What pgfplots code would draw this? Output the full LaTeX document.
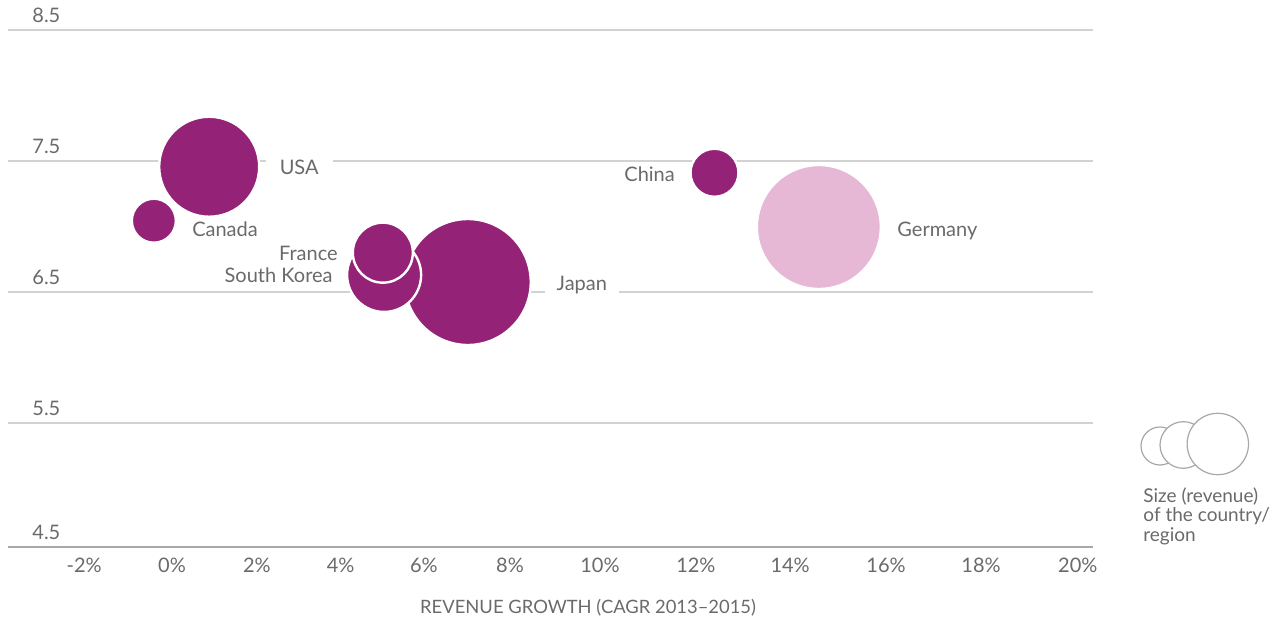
\documentclass[border=0pt]{standalone}
\usepackage{fontspec}
\setmainfont{Lato}
\usepackage{pgfplots}
\pgfplotsset{compat=1.18}
\definecolor{bub}{HTML}{942277}
\definecolor{bubl}{HTML}{E6B8D6}
\definecolor{txt}{HTML}{6A6A6A}
\definecolor{grd}{HTML}{D2D2D2}
\definecolor{axl}{HTML}{A8A8A8}
\pgfplotstableread{
x y r
-0.43 7.044 11
0.88 7.456 25
12.84 7.41 12
7.00 6.576 31.5
5.02 6.63 18.5
4.99 6.80 15
}\purple
\pgfplotstableread{
x y r
15.31 6.996 31
}\pink
\begin{document}
\begin{tikzpicture}[x=1pt,y=1pt,
  lbl/.style={font=\fontsize{10}{12}\selectfont, text=txt, inner sep=0pt}]
\useasboundingbox (0,0) rectangle (641.5,310);
\begin{axis}[
  at={(4pt,36.5pt)}, anchor=south west,
  scale only axis, width=542.5pt, height=258.5pt,
  xmin=-3.882, xmax=21.799, ymin=4.553, ymax=8.5,
  clip=false,
  axis x line*=bottom, axis y line*=left,
  x axis line style={draw=axl, line width=1pt, -},
  y axis line style={draw=none},
  major tick length=0pt, tick style={draw=none},
  xtick={-2.08,0,2.01,3.99,5.96,8,10.13,12.40,14.63,16.90,19.15,21.44},
  xticklabels={-2\%,0\%,2\%,4\%,6\%,8\%,10\%,12\%,14\%,16\%,18\%,20\%},
  xticklabel style={anchor=base, inner sep=0pt, yshift=-13pt, font=\fontsize{10}{12}\selectfont, text=txt},
  ytick={4.553,5.5,6.5,7.5,8.5},
  yticklabels={4.5,5.5,6.5,7.5,8.5},
  yticklabel style={anchor=base west, inner sep=0pt, xshift=12pt, yshift=3.5pt, font=\fontsize{10}{12}\selectfont, text=txt},
  ymajorgrids, grid style={draw=grd, line width=0.6pt},
]
\addplot[scatter, only marks, mark=*,
  scatter/use mapped color={draw=white, fill=bubl},
  visualization depends on={\thisrow{r} \as \rad},
  scatter/@pre marker code/.append style={/tikz/mark size=\rad},
  mark options={line width=1.2pt}] table[x=x,y=y] {\pink};
\addplot[scatter, only marks, mark=*,
  scatter/use mapped color={draw=white, fill=bub},
  visualization depends on={\thisrow{r} \as \rad},
  scatter/@pre marker code/.append style={/tikz/mark size=\rad},
  mark options={line width=1.2pt}] table[x=x,y=y] {\purple};
\node[lbl, anchor=base west] at (axis cs:0.47,6.927) {Canada};
\node[lbl, anchor=base, fill=white, inner xsep=7pt, inner ysep=2pt] at (axis cs:3.01,7.40) {USA};
\node[lbl, anchor=base east] at (axis cs:3.93,6.737) {France};
\node[lbl, anchor=base east] at (axis cs:3.81,6.569) {South Korea};
\node[lbl, anchor=base, fill=white, inner xsep=6pt, inner ysep=2pt] at (axis cs:9.70,6.515) {Japan};
\node[lbl, anchor=base east] at (axis cs:11.91,7.347) {China};
\node[lbl, anchor=base west] at (axis cs:17.16,6.927) {Germany};
\node[lbl, anchor=base, font=\fontsize{9.2}{11}\selectfont] at (rel axis cs:0.5346,0) [yshift=-33.5pt] {REVENUE GROWTH (CAGR 2013--2015)};
\end{axis}
\begin{scope}[draw=axl, line width=0.6pt]
\filldraw[fill=white] (580,87) circle (9.5);
\filldraw[fill=white] (591.65,87.5) circle (11.65);
\filldraw[fill=white] (608.9,88) circle (15.35);
\end{scope}
\begin{scope}[every node/.style={font=\fontsize{9.5}{11}\selectfont, text=txt, inner sep=0pt, anchor=base west}]
\node at (571.5,58.5) {Size (revenue)};
\node at (571.5,49) {of the country/};
\node at (571.5,39) {region};
\end{scope}
\end{tikzpicture}
\end{document}
